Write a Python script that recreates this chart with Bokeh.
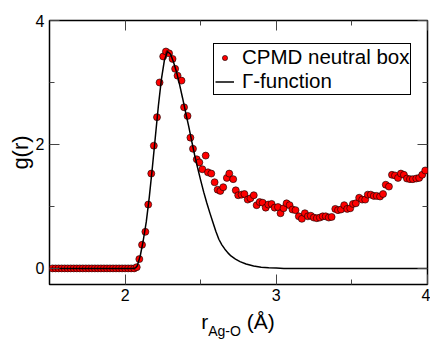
from bokeh.plotting import figure
from bokeh.models import LinearAxis, FixedTicker, Range1d, Legend, LegendItem, Div
from bokeh.layouts import column
from bokeh.embed import file_html
from bokeh.resources import INLINE

# CPMD neutral box g(r) points
cpmd_x = [1.52, 1.54, 1.56, 1.58, 1.60, 1.62, 1.64, 1.66, 1.68, 1.70,
          1.72, 1.74, 1.76, 1.78, 1.80, 1.82, 1.84, 1.86, 1.88, 1.90,
          1.92, 1.94, 1.96, 1.98, 2.00, 2.02, 2.04, 2.06,
          2.077, 2.094, 2.112, 2.134, 2.153, 2.173, 2.190, 2.211, 2.228, 2.252,
          2.270, 2.291, 2.314, 2.331, 2.347, 2.373, 2.390, 2.413, 2.432, 2.449,
          2.474, 2.491, 2.511, 2.533, 2.548, 2.570, 2.592, 2.612, 2.630, 2.649,
          2.673, 2.689, 2.715, 2.732, 2.748, 2.770, 2.789, 2.811, 2.829, 2.851,
          2.870, 2.890, 2.910, 2.930, 2.947, 2.969, 2.989, 3.011, 3.028, 3.048,
          3.068, 3.088, 3.107, 3.127, 3.149, 3.169, 3.189, 3.209, 3.228, 3.248,
          3.268, 3.288, 3.307, 3.327, 3.347, 3.366, 3.390, 3.408, 3.428, 3.449,
          3.469, 3.489, 3.507, 3.526, 3.548, 3.568, 3.588, 3.605, 3.625, 3.645,
          3.664, 3.686, 3.706, 3.724, 3.745, 3.765, 3.785, 3.805, 3.824, 3.844,
          3.864, 3.884, 3.903, 3.926, 3.945, 3.965, 3.985]
cpmd_y = [0.0, 0.0, 0.0, 0.0, 0.0, 0.0, 0.0, 0.0, 0.0, 0.0,
          0.0, 0.0, 0.0, 0.0, 0.0, 0.0, 0.0, 0.0, 0.0, 0.0,
          0.0, 0.0, 0.0, 0.0, 0.0, 0.0, 0.0, 0.0,
          0.02, 0.15, 0.38, 0.59, 1.03, 1.53, 1.98, 2.44, 3.00, 3.42,
          3.50, 3.47, 3.38, 3.22, 3.11, 3.03, 2.60, 2.46, 2.11, 1.93,
          1.76, 1.71, 1.60, 1.82, 1.55, 1.53, 1.39, 1.27, 1.25, 1.31,
          1.46, 1.53, 1.44, 1.26, 1.18, 1.19, 1.20, 1.11, 1.13, 1.18,
          1.02, 1.07, 1.06, 0.98, 1.03, 1.04, 0.98, 0.99, 0.89, 0.97,
          1.05, 1.02, 0.95, 0.94, 0.84, 0.80, 0.89, 0.84, 0.85, 0.82,
          0.81, 0.82, 0.84, 0.84, 0.82, 0.83, 0.96, 0.94, 0.95, 1.02,
          0.96, 0.97, 1.04, 1.05, 1.14, 1.11, 1.11, 1.19, 1.19, 1.17,
          1.17, 1.16, 1.20, 1.35, 1.32, 1.51, 1.50, 1.46, 1.53, 1.51,
          1.45, 1.44, 1.44, 1.45, 1.46, 1.51, 1.58]

# Gamma-function fit curve
gamma_x = [1.50, 2.06, 2.07, 2.08, 2.10, 2.12, 2.14, 2.16, 2.18, 2.20,
           2.22, 2.24, 2.26, 2.28, 2.30, 2.32, 2.34, 2.36, 2.38, 2.40,
           2.42, 2.44, 2.46, 2.48, 2.50, 2.52, 2.54, 2.56, 2.58, 2.60,
           2.62, 2.64, 2.66, 2.68, 2.70, 2.73, 2.76, 2.80, 2.85, 2.90,
           2.95, 3.00, 3.05, 4.00]
gamma_y = [0.0, 0.0, 0.01, 0.04, 0.20, 0.45, 0.75, 1.15, 1.62, 2.12,
           2.62, 3.05, 3.36, 3.50, 3.46, 3.33, 3.17, 2.97, 2.75, 2.52,
           2.30, 2.06, 1.83, 1.62, 1.42, 1.23, 1.06, 0.90, 0.75, 0.60,
           0.47, 0.38, 0.31, 0.25, 0.20, 0.15, 0.11, 0.07, 0.04, 0.02,
           0.01, 0.005, 0.0, 0.0]

x_major = [2, 3, 4]
x_minor = [2.5, 3.5]
y_major = [0, 2, 4]
y_minor = [1, 3]

FONT = "Liberation Sans"

p = figure(width=430, height=309, x_range=Range1d(1.5, 4.0), y_range=Range1d(-0.26, 4.0),
           output_backend="svg", toolbar_location=None,
           min_border_left=49, min_border_right=3, min_border_top=20, min_border_bottom=25)
p.grid.visible = False
p.background_fill_color = "white"
p.border_fill_color = "white"
p.outline_line_color = "black"
p.outline_line_width = 1.5


def style_axis(ax, ticks, minor, show_labels=True):
    ax.ticker = FixedTicker(ticks=ticks, minor_ticks=minor)
    ax.axis_line_color = None
    ax.major_tick_in = 10
    ax.major_tick_out = 0
    ax.minor_tick_in = 5
    ax.minor_tick_out = 0
    ax.major_tick_line_color = "#444444"
    ax.minor_tick_line_color = "#444444"
    ax.major_tick_line_width = 1
    ax.minor_tick_line_width = 1
    if show_labels:
        ax.major_label_text_font = FONT
        ax.major_label_text_font_size = "16px"
        ax.major_label_text_color = "black"
        ax.major_label_standoff = 4
    else:
        ax.major_label_text_font_size = "1px"
        ax.major_label_text_color = None
        ax.major_label_standoff = 0


style_axis(p.xaxis[0], x_major, x_minor)
style_axis(p.yaxis[0], y_major, y_minor)
p.yaxis[0].major_label_standoff = 5
p.yaxis[0].axis_label = "g(r)"
p.yaxis[0].axis_label_text_font = FONT
p.yaxis[0].axis_label_text_font_size = "22px"
p.yaxis[0].axis_label_text_font_style = "normal"
p.yaxis[0].axis_label_text_color = "black"
p.yaxis[0].axis_label_standoff = 0

top_ax = LinearAxis()
style_axis(top_ax, x_major, x_minor, show_labels=False)
p.add_layout(top_ax, "above")
right_ax = LinearAxis()
style_axis(right_ax, y_major, y_minor, show_labels=False)
p.add_layout(right_ax, "right")

r_pts = p.scatter(cpmd_x, cpmd_y, size=7, fill_color="red", line_color="black", line_width=0.6)
r_line = p.line(gamma_x, gamma_y, line_color="black", line_width=1.5)

legend = Legend(items=[LegendItem(label="CPMD neutral box", renderers=[r_pts]),
                       LegendItem(label="Γ-function", renderers=[r_line])],
                location=(164, 189), orientation="vertical",
                label_text_font=FONT, label_text_font_size="20.5px", label_text_color="black",
                border_line_color="black", border_line_width=1, border_line_alpha=1.0,
                background_fill_color="white", background_fill_alpha=1.0,
                padding=1, spacing=-6, margin=0,
                glyph_width=19, glyph_height=13, label_height=20, label_standoff=8)
p.add_layout(legend)

# x-axis title with subscript: r_{Ag-O} (Å)
xlabel = Div(text='r<sub style="font-size:14px;vertical-align:-7px;line-height:0">Ag-O</sub>&nbsp;(Å)',
             width=378, height=30, margin=(0, 0, 0, 49),
             styles={"font-family": FONT, "font-size": "21px", "color": "black",
                     "text-align": "center", "line-height": "21px", "padding-top": "2px"})

layout = column(p, xlabel, spacing=0)

open("out.html", "w").write(file_html(layout, INLINE))
